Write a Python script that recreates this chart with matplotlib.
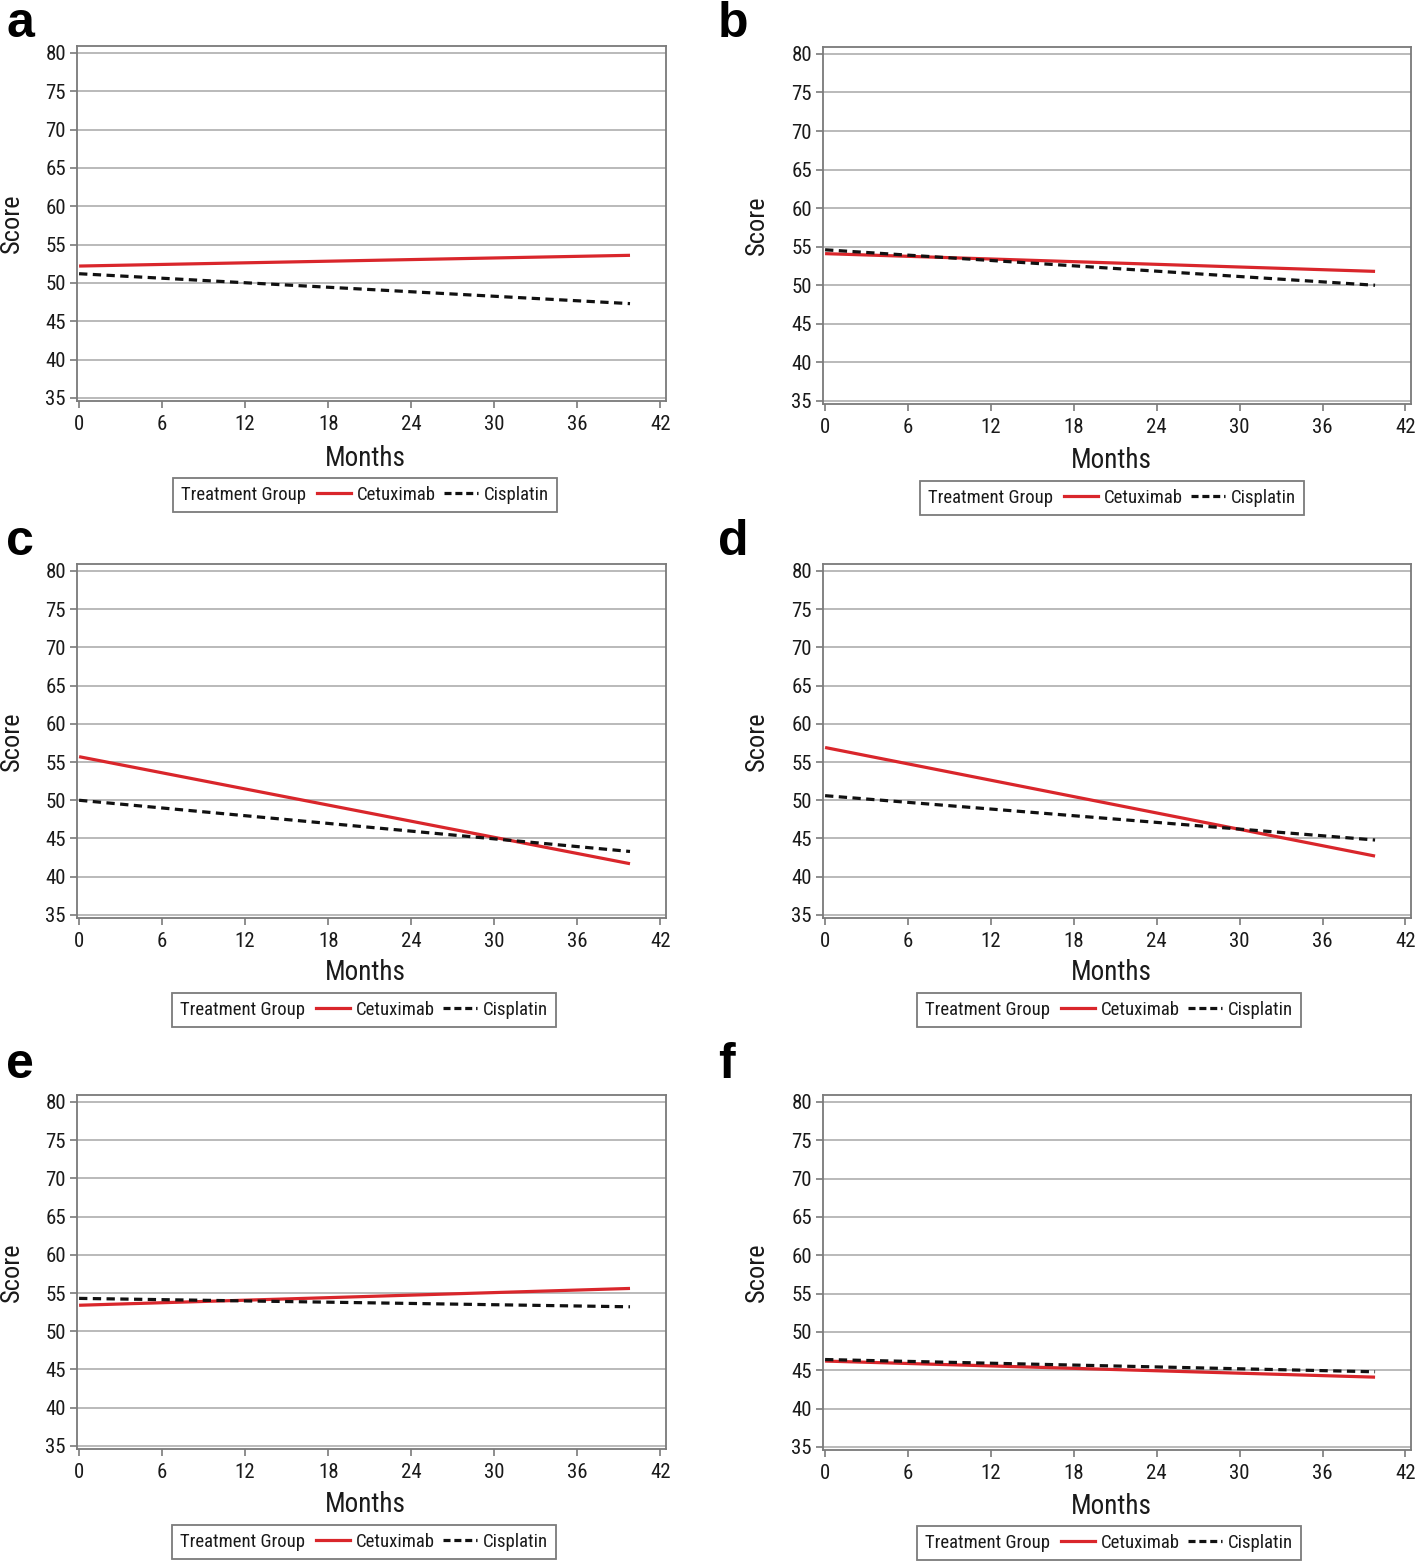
import matplotlib
matplotlib.use('Agg')
import matplotlib.pyplot as plt
from matplotlib.lines import Line2D
from matplotlib.offsetbox import HPacker
from matplotlib import font_manager

# ---------------- data ----------------
panel_labels = ['a', 'b', 'c', 'd', 'e', 'f']
months = [0, 39.8]
cetuximab_start = [52.2, 54.1, 55.7, 56.9, 53.4, 46.2]
cetuximab_end = [53.6, 51.8, 41.7, 42.7, 55.6, 44.1]
cisplatin_start = [51.2, 54.6, 50.0, 50.6, 54.3, 46.4]
cisplatin_end = [47.3, 50.0, 43.3, 44.8, 53.2, 44.8]
series_names = ['Cetuximab', 'Cisplatin']
legend_title = 'Treatment Group'
x_ticks = [0, 6, 12, 18, 24, 30, 36, 42]
y_ticks = [35, 40, 45, 50, 55, 60, 65, 70, 75, 80]
x_label = 'Months'
y_label = 'Score'

# ---------------- font selection (prefer a narrow sans) ----------------
def pick_narrow():
    prefs = ['Liberation Sans Narrow', 'Arimo', 'Roboto Condensed', 'Open Sans Condensed',
             'Noto Sans Condensed', 'Noto Sans', 'Roboto', 'Open Sans', 'DejaVu Sans']
    cands = []
    for f in font_manager.fontManager.ttflist:
        w = f.weight if isinstance(f.weight, int) else 400
        if f.style != 'normal' or not (350 <= w <= 450):
            continue
        narrow = ('Narrow' in f.name or 'Condensed' in f.name or
                  f.stretch in ('condensed', 'semi-condensed', 'extra-condensed'))
        if narrow:
            cands.append(f)
    def rank(f):
        for k, p in enumerate(prefs):
            if f.name.startswith(p):
                return k
        return len(prefs)
    cands.sort(key=rank)
    if cands:
        return cands[0].name, cands[0].stretch
    return 'Liberation Sans', 'normal'

fam, stretch = pick_narrow()
plt.rcParams['font.family'] = [fam, 'Liberation Sans', 'DejaVu Sans']
plt.rcParams['font.stretch'] = stretch

W, H = 1418, 1561
fig = plt.figure(figsize=(W / 100, H / 100), dpi=100)

RED = '#d9262b'
GRID = '#b4b4b4'
FRAME = '#7a7a7a'

# axes boxes in pixel coordinates (left, right, top, bottom)
boxes = [
    (77, 666, 46, 401),
    (823, 1411, 47, 404),
    (77, 666, 564, 918),
    (823, 1411, 564, 918),
    (77, 666, 1095, 1449),
    (823, 1411, 1095, 1450),
]
letter_pos = [(6, 37), (718, 37), (6, 555), (718, 555), (6, 1078), (718, 1078)]
legend_centers = [(365, 495), (1112, 498), (364, 1010), (1109, 1010), (364, 1542), (1109, 1543)]
xlabel_y = [458, 461, 973, 973, 1505, 1506]
ylabel_x = [12, 757, 12, 757, 12, 757]

for i, lab in enumerate(panel_labels):
    l, r, t, b = boxes[i]
    ax = fig.add_axes([l / W, 1 - b / H, (r - l) / W, (b - t) / H])
    ax.set_xlim(-0.15, 42.4)
    ax.set_ylim(34.6, 80.9)
    ax.set_yticks(y_ticks)
    ax.set_xticks(x_ticks)
    ax.yaxis.grid(True, color=GRID, lw=1.3)
    ax.set_axisbelow(True)
    for s in ax.spines.values():
        s.set_color(FRAME)
        s.set_linewidth(1.3)
    ax.tick_params(axis='both', colors=FRAME, labelcolor='#1a1a1a',
                   labelsize=15, length=5, width=1.2, pad=3)
    ax.tick_params(axis='x', pad=5)
    ax.plot(months, [cetuximab_start[i], cetuximab_end[i]], color=RED, lw=2.3,
            solid_capstyle='butt', zorder=3)
    ax.plot(months, [cisplatin_start[i], cisplatin_end[i]], color='#111111', lw=2.3,
            dashes=(2.6, 1.7), zorder=3)

    # axis labels placed in figure coordinates
    fig.text((l + r) / 2 / W - 0.004, 1 - xlabel_y[i] / H, x_label, ha='center', va='center',
             fontsize=19.5, color='#1a1a1a')
    fig.text(ylabel_x[i] / W, 1 - (t + b) / 2 / H, y_label, ha='center', va='center',
             rotation=90, fontsize=19, color='#1a1a1a')

    # panel letter
    fig.text(letter_pos[i][0] / W, 1 - letter_pos[i][1] / H, lab, ha='left', va='baseline',
             fontsize=36, fontweight='bold', family=['Liberation Sans', 'DejaVu Sans'],
             fontstretch='normal', color='black')

    # legend with title on the left
    h1 = Line2D([], [], color=RED, lw=2.3)
    h2 = Line2D([], [], color='#111111', lw=2.3, dashes=(2.2, 1.2))
    cx, cy = legend_centers[i]
    leg = fig.legend(handles=[h1, h2], labels=series_names, ncol=2, title=legend_title,
                     loc='center', bbox_to_anchor=(cx / W, 1 - cy / H),
                     frameon=True, fancybox=False, fontsize=13.5, title_fontsize=13.5,
                     handlelength=1.8, handletextpad=0.3, columnspacing=0.45,
                     borderpad=0.3, borderaxespad=0)
    leg.get_frame().set_edgecolor('#5a5a5a')
    leg.get_frame().set_linewidth(1.3)
    for tx in leg.get_texts():
        tx.set_color('#1a1a1a')
    leg.get_title().set_color('#1a1a1a')
    fs = leg._fontsize
    newbox = HPacker(pad=0.45 * fs, sep=0.6 * fs, align='center',
                     children=[leg._legend_title_box, leg._legend_handle_box])
    newbox.set_figure(fig)
    newbox.set_offset(leg._findoffset)
    leg._legend_box = newbox

fig.savefig('out.png', dpi=100)
